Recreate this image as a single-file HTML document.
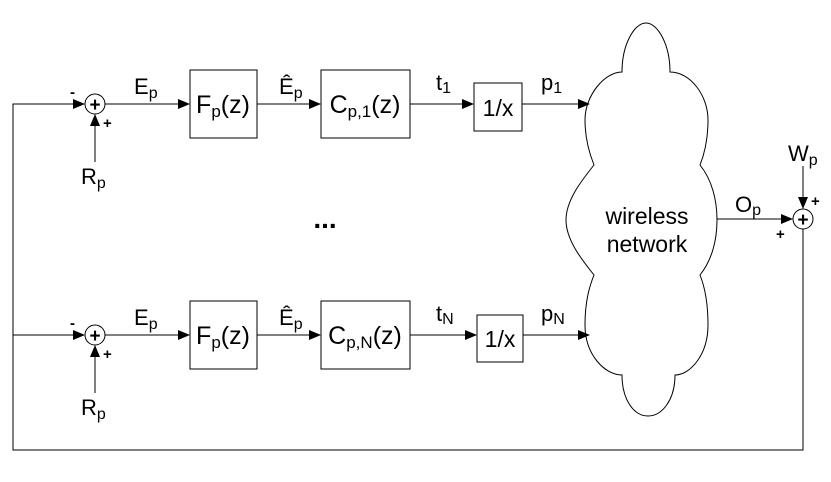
<!DOCTYPE html>
<html><head><style>body{margin:0;background:#fff}svg{display:block}text{font-family:"Liberation Sans",Arial,sans-serif;fill:#000}</style></head>
<body>
<svg width="831" height="482" viewBox="0 0 831 482" xmlns="http://www.w3.org/2000/svg">
<defs><marker id="a" markerWidth="12" markerHeight="10" refX="11" refY="5" orient="auto" markerUnits="userSpaceOnUse"><path d="M0,0 L12,5 L0,10 z" fill="#000"/></marker></defs>
<g stroke="#000" stroke-width="1" fill="none">
<polyline points="803,229 803,450 13,450 13,104 84,104" marker-end="url(#a)"/>
<polyline points="13,335 84,335" marker-end="url(#a)"/>
<circle cx="95" cy="104" r="10"/>
<line x1="95" y1="162" x2="95" y2="115" marker-end="url(#a)"/>
<line x1="105" y1="104" x2="189" y2="104" marker-end="url(#a)"/>
<rect x="190" y="70" width="67" height="68"/>
<line x1="257" y1="104" x2="320" y2="104" marker-end="url(#a)"/>
<rect x="321" y="70" width="89" height="68"/>
<line x1="410" y1="104" x2="473" y2="104" marker-end="url(#a)"/>
<rect x="474" y="83" width="48" height="48"/>
<line x1="522" y1="104" x2="589" y2="104" marker-end="url(#a)"/>
<circle cx="95" cy="335" r="10"/>
<line x1="95" y1="393" x2="95" y2="346" marker-end="url(#a)"/>
<line x1="105" y1="335" x2="189" y2="335" marker-end="url(#a)"/>
<rect x="190" y="301" width="67" height="68"/>
<line x1="257" y1="335" x2="320" y2="335" marker-end="url(#a)"/>
<rect x="321" y="301" width="89" height="68"/>
<line x1="410" y1="335" x2="476" y2="335" marker-end="url(#a)"/>
<rect x="477" y="315" width="46" height="47"/>
<line x1="523" y1="335" x2="589" y2="335" marker-end="url(#a)"/>
<path d="M622,72 C622,45 634,23 646,23 C658,23 670,45 670,72 C690,72 708,95 708,120 C708,140 704,155 700,165 C712,180 717,200 717,220 C717,240 712,260 700,275 C704,285 708,300 708,325 C708,355 690,375 675,375 C675,400 662,416 648,416 C634,416 622,400 622,375 C605,375 585,355 585,325 C585,300 590,285 594,275 C582,260 566,240 566,220 C566,200 582,180 594,165 C590,155 585,140 585,120 C585,95 605,72 622,72 Z"/>
<line x1="717" y1="219" x2="792" y2="219" marker-end="url(#a)"/>
<circle cx="803" cy="219" r="10"/>
<line x1="803" y1="166" x2="803" y2="208" marker-end="url(#a)"/>
</g>
<g font-size="25" text-anchor="middle">
<text x="223" y="113">F<tspan font-size="17" dy="4">p</tspan><tspan dy="-4">(z)</tspan></text>
<text x="223" y="344">F<tspan font-size="17" dy="4">p</tspan><tspan dy="-4">(z)</tspan></text>
<text x="365" y="113">C<tspan font-size="17" dy="4">p,1</tspan><tspan dy="-4">(z)</tspan></text>
<text x="365" y="344">C<tspan font-size="17" dy="4">p,N</tspan><tspan dy="-4">(z)</tspan></text>
<text x="498" y="116" font-size="23">1/x</text>
<text x="500" y="347" font-size="23">1/x</text>
<text x="647" y="224" font-size="23">wireless</text>
<text x="647" y="252" font-size="23">network</text>
<text x="325" y="228" font-weight="bold" font-size="28">...</text>
<text x="95" y="111" font-size="19" font-weight="bold">+</text>
<text x="95" y="342" font-size="19" font-weight="bold">+</text>
<text x="803" y="226" font-size="19" font-weight="bold">+</text>
</g>
<g font-size="22">
<text x="134" y="94">E<tspan font-size="16" dy="4">p</tspan></text>
<text x="134" y="325">E<tspan font-size="16" dy="4">p</tspan></text>
<text x="279" y="94">Ê<tspan font-size="16" dy="4">p</tspan></text>
<text x="279" y="325">Ê<tspan font-size="16" dy="4">p</tspan></text>
<text x="81" y="184">R<tspan font-size="16" dy="4">p</tspan></text>
<text x="81" y="415">R<tspan font-size="16" dy="4">p</tspan></text>
<text x="436" y="90">t<tspan font-size="16" dy="3">1</tspan></text>
<text x="436" y="321">t<tspan font-size="16" dy="3">N</tspan></text>
<text x="541" y="90">p<tspan font-size="16" dy="3">1</tspan></text>
<text x="541" y="321">p<tspan font-size="16" dy="3">N</tspan></text>
<text x="735" y="212">O<tspan font-size="16" dy="3">p</tspan></text>
<text x="788" y="161">W<tspan font-size="16" dy="4">p</tspan></text>
</g>
<g font-size="15" font-weight="bold">
<text x="70" y="97">-</text><text x="70" y="328">-</text>
<text x="103" y="128">+</text><text x="103" y="359">+</text>
<text x="811" y="206">+</text>
<text x="776" y="239">+</text>
</g>
</svg>
</body></html>
